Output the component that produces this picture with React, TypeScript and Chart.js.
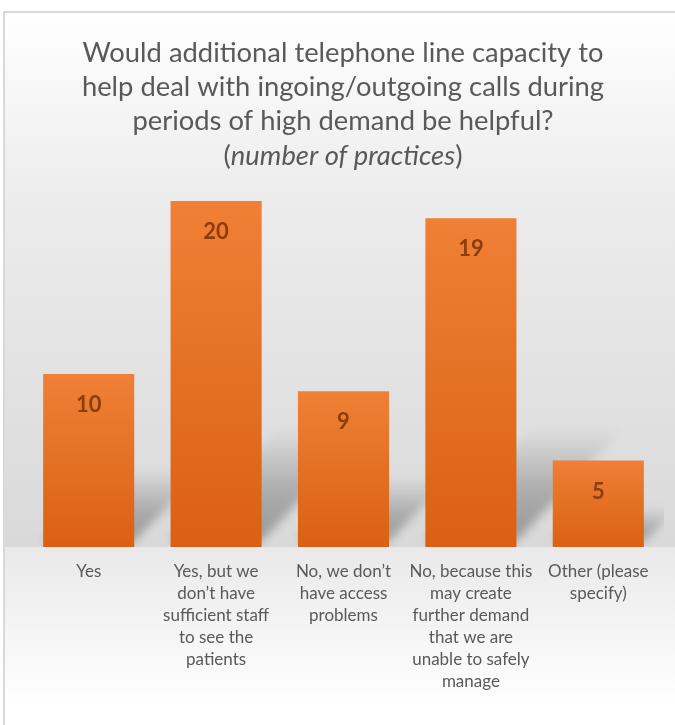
import React, { useEffect, useRef } from "react";
import { Chart, registerables } from "chart.js";

Chart.register(...registerables);

const titleLines = [
  "Would additional telephone line capacity to",
  "help deal with ingoing/outgoing calls during",
  "periods of high demand be helpful?",
];
const subtitleParts = [
  { text: "(", italic: false },
  { text: "number of practices", italic: true },
  { text: ")", italic: false },
];
const categories = [
  ["Yes"],
  ["Yes, but we", "don\u2019t have", "sufficient staff", "to see the", "patients"],
  ["No, we don\u2019t", "have access", "problems"],
  ["No, because this", "may create", "further demand", "that we are", "unable to safely", "manage"],
  ["Other (please", "specify)"],
];
const values = [10, 20, 9, 19, 5];

const FONT = "Lato, 'Open Sans', sans-serif";
const W = 675;
const H = 725;

export default function App() {
  const ref = useRef<HTMLCanvasElement | null>(null);

  useEffect(() => {
    document.body.style.margin = "0";
    document.body.style.overflow = "hidden";
    const canvas = ref.current;
    if (!canvas) return;

    const decor = {
      id: "decor",
      beforeDraw(chart: any) {
        const ctx = chart.ctx;
        const area = chart.chartArea;
        ctx.save();
        ctx.fillStyle = "#ffffff";
        ctx.fillRect(0, 0, W, H);
        const g = ctx.createLinearGradient(0, 12, 0, area.bottom);
        g.addColorStop(0, "#ffffff");
        g.addColorStop(0.35, "#ececec");
        g.addColorStop(1, "#d9d9d9");
        ctx.fillStyle = g;
        ctx.fillRect(4, 12, W, area.bottom - 12);
        const f = ctx.createLinearGradient(0, area.bottom, 0, 705);
        f.addColorStop(0, "#e9e9e9");
        f.addColorStop(1, "#ffffff");
        ctx.fillStyle = f;
        ctx.fillRect(4, area.bottom, W, H - area.bottom);
        ctx.strokeStyle = "#d9d9d9";
        ctx.lineWidth = 2;
        ctx.strokeRect(4, 12, W + 20, H + 20);
        ctx.restore();
      },
      beforeDatasetsDraw(chart: any) {
        const ctx = chart.ctx;
        const area = chart.chartArea;
        const meta = chart.getDatasetMeta(0);
        ctx.save();
        ctx.beginPath();
        ctx.rect(area.left - 10, area.top - 50, area.right - area.left + 12, area.bottom - area.top + 50);
        ctx.clip();
        ctx.filter = "blur(5px)";
        meta.data.forEach((bar: any) => {
          const x0 = bar.x - bar.width / 2;
          const x1 = bar.x + bar.width / 2;
          const base = bar.base;
          const h = base - bar.y;
          const t = Math.min(h * 0.45, 120);
          const dx = t * 0.9;
          const grad = ctx.createLinearGradient(0, base, 0, base - t);
          grad.addColorStop(0, "rgba(0,0,0,0.30)");
          grad.addColorStop(0.45, "rgba(0,0,0,0.22)");
          grad.addColorStop(1, "rgba(0,0,0,0)");
          ctx.fillStyle = grad;
          ctx.beginPath();
          ctx.moveTo(x0, base - 6);
          ctx.lineTo(x1, base - 6);
          ctx.lineTo(x1 + dx, base - t);
          ctx.lineTo(x0 + dx, base - t);
          ctx.closePath();
          ctx.fill();
        });
        ctx.restore();
      },
      afterDatasetsDraw(chart: any) {
        const ctx = chart.ctx;
        const meta = chart.getDatasetMeta(0);
        ctx.save();
        ctx.font = `bold 22px ${FONT}`;
        ctx.fillStyle = "#8c3d0c";
        ctx.textAlign = "center";
        ctx.textBaseline = "middle";
        meta.data.forEach((bar: any, i: number) => {
          ctx.fillText(String(values[i]), bar.x, bar.y + 31);
        });
        ctx.restore();
      },
      afterDraw(chart: any) {
        const ctx = chart.ctx;
        ctx.save();
        ctx.fillStyle = "#595959";
        ctx.textBaseline = "middle";
        ctx.textAlign = "left";
        ctx.font = `100px ${FONT}`;
        const w100 = ctx.measureText(titleLines[0]).width;
        const size = (100 * 521) / w100;
        const cx = 343;
        const ys = [53, 87, 121, 156];
        ctx.font = `${size}px ${FONT}`;
        titleLines.forEach((line, i) => {
          const w = ctx.measureText(line).width;
          ctx.fillText(line, cx - w / 2, ys[i]);
        });
        const widths = subtitleParts.map((p) => {
          ctx.font = `${p.italic ? "italic " : ""}${size}px ${FONT}`;
          return ctx.measureText(p.text).width;
        });
        const total = widths.reduce((a, b) => a + b, 0);
        let x = cx - total / 2;
        subtitleParts.forEach((p, i) => {
          ctx.font = `${p.italic ? "italic " : ""}${size}px ${FONT}`;
          ctx.fillText(p.text, x, ys[3]);
          x += widths[i];
        });
        ctx.restore();
      },
    };

    const chart = new Chart(canvas, {
      type: "bar",
      data: {
        labels: categories,
        datasets: [
          {
            data: values,
            barPercentage: 0.715,
            categoryPercentage: 1,
            backgroundColor: (c: any) => {
              const chartRef = c.chart;
              const area = chartRef.chartArea;
              if (!area || c.dataIndex === undefined) return "#e67024";
              const yScale = chartRef.scales.y;
              const top = yScale.getPixelForValue(values[c.dataIndex]);
              const bottom = yScale.getPixelForValue(0);
              const g = chartRef.ctx.createLinearGradient(0, top, 0, bottom);
              g.addColorStop(0, "#ef8035");
              g.addColorStop(1, "#db6013");
              return g;
            },
            borderWidth: 0,
          },
        ],
      },
      options: {
        responsive: false,
        animation: false,
        devicePixelRatio: 1,
        layout: { padding: { top: 201, left: 25, right: 13, bottom: 0 } },
        plugins: {
          legend: { display: false },
          tooltip: { enabled: false },
          title: { display: false },
        },
        scales: {
          x: {
            grid: { display: false, drawTicks: false },
            border: { display: false },
            ticks: {
              color: "#595959",
              font: { family: FONT, size: 17, lineHeight: 1.3 },
              padding: 13,
              maxRotation: 0,
              autoSkip: false,
            },
            afterFit: (scale: any) => {
              scale.height = 178;
            },
          },
          y: { display: false, min: 0, max: 20 },
        },
      },
      plugins: [decor],
    });
    return () => chart.destroy();
  }, []);

  return (
    <div style={{ position: "absolute", left: 0, top: 0, width: W, height: H }}>
      <canvas ref={ref} width={W} height={H} style={{ display: "block", width: W, height: H }} />
    </div>
  );
}
